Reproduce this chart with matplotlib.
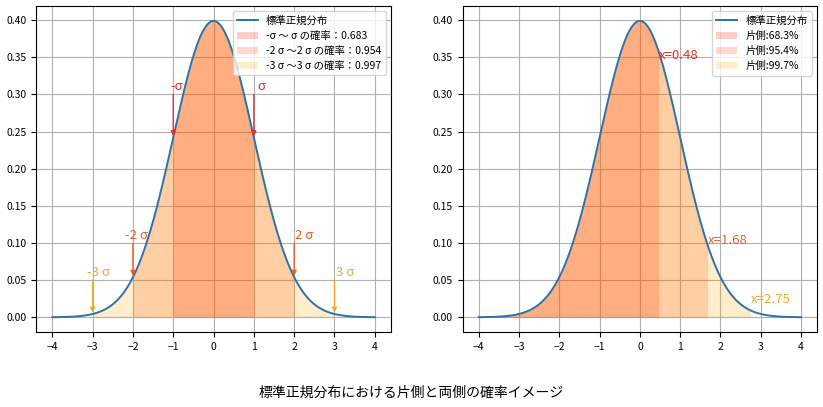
import numpy as np
import matplotlib
matplotlib.use("Agg")
import matplotlib.pyplot as plt

plt.rcParams['font.family'] = ['Noto Sans CJK JP', 'DejaVu Sans']

# curve samples
x = np.linspace(-4, 4, 801)
pdf = np.exp(-x ** 2 / 2) / np.sqrt(2 * np.pi)

# left panel: two-sided ranges
sigmas = [1, 2, 3]
two_labels = ['-σ 〜 σ の確率：0.683', '-2 σ 〜2 σ の確率：0.954', '-3 σ 〜3 σ の確率：0.997']
fill_colors = ['red', 'orangered', 'orange']
arrow_colors = ['#e8302a', '#e8602c', '#f0a830']
neg_texts = ['-σ', '-2 σ', '-3 σ']
pos_texts = ['σ', '2 σ', '3 σ']
text_y = [0.30, 0.10, 0.05]
neg_text_x = [-1.08, -2.2, -3.15]
pos_text_x = [1.08, 2.03, 3.03]

# right panel: one-sided limits
one_limits = [0.48, 1.68, 2.75]
one_labels = ['片側:68.3%', '片側:95.4%', '片側:99.7%']
one_texts = ['x=0.48', 'x=1.68', 'x=2.75']
one_text_y = [0.348, 0.099, 0.019]

ticks = [-4, -3, -2, -1, 0, 1, 2, 3, 4]
yticks = [0.0, 0.05, 0.10, 0.15, 0.20, 0.25, 0.30, 0.35, 0.40]


def norm_pdf(v):
    return np.exp(-v ** 2 / 2) / np.sqrt(2 * np.pi)


fig = plt.figure(figsize=(8.23, 4.07), dpi=100)
ax1 = fig.add_axes([0.044, 0.184, 0.431, 0.801])
ax2 = fig.add_axes([0.562, 0.184, 0.431, 0.801])

# left
ax1.plot(x, pdf, color='#2f72a8', lw=1.4, label='標準正規分布', zorder=3)
for s, lab, c in zip(sigmas, two_labels, fill_colors):
    m = (x >= -s) & (x <= s)
    ax1.fill_between(x[m], pdf[m], color=c, alpha=0.2, label=lab, linewidth=0)
for i, s in enumerate(sigmas):
    for tx, t, sx in ((neg_text_x[i], neg_texts[i], -s), (pos_text_x[i], pos_texts[i], s)):
        ax1.annotate('', xy=(sx, norm_pdf(sx)), xytext=(sx, text_y[i]),
                     arrowprops=dict(arrowstyle='-|>', color=arrow_colors[i], lw=1.0,
                                     mutation_scale=7, shrinkA=0, shrinkB=1))
        ax1.text(tx, text_y[i] + 0.002, t, color=arrow_colors[i], fontsize=9.5,
                 ha='left', va='bottom')
ax1.legend(loc='upper right', fontsize=7.5)

# right
ax2.plot(x, pdf, color='#2f72a8', lw=1.4, label='標準正規分布', zorder=3)
for lim, lab, c in zip(one_limits, one_labels, fill_colors):
    m = x <= lim
    ax2.fill_between(x[m], pdf[m], color=c, alpha=0.2, label=lab, linewidth=0)
for lim, t, ty, c in zip(one_limits, one_texts, one_text_y, arrow_colors):
    ax2.text(lim, ty, t, color=c, fontsize=9.5, ha='left', va='baseline')
ax2.legend(loc='upper right', fontsize=7.5)

for ax in (ax1, ax2):
    ax.set_xticks(ticks)
    ax.set_yticks(yticks)
    ax.set_yticklabels(['%.2f' % v for v in yticks])
    ax.tick_params(labelsize=7.5)
    ax.grid(True)
    ax.set_axisbelow(True)

fig.text(0.5, 0.025, '標準正規分布における片側と両側の確率イメージ', ha='center', fontsize=10)

fig.savefig('out.png', dpi=100)
